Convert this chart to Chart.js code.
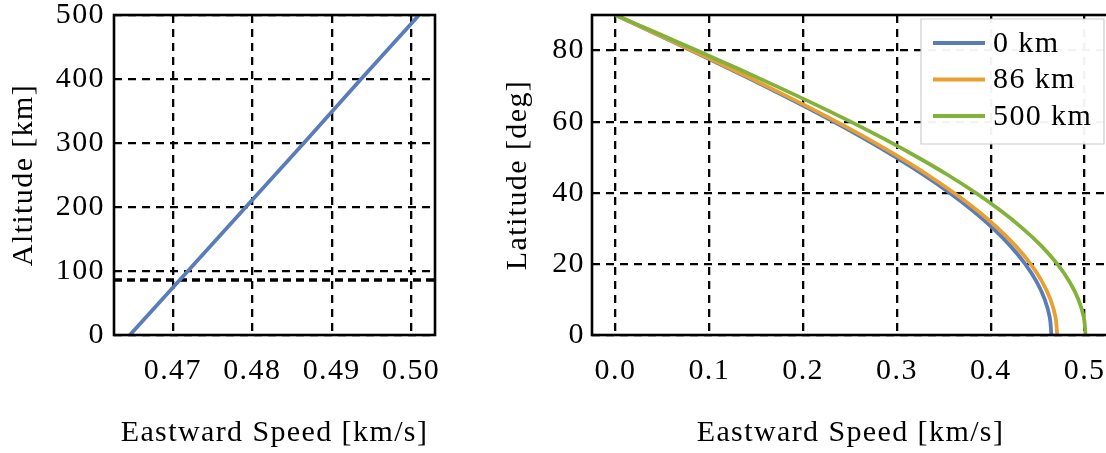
<!DOCTYPE html>
<html><head><meta charset="utf-8">
<script src="https://cdn.jsdelivr.net/npm/chart.js@4.4.0/dist/chart.umd.min.js"></script>
<style>
html,body{margin:0;padding:0;overflow:hidden;background:#fff;width:1106px;height:453px;}
#l{position:absolute;left:0;top:0;width:450px;height:453px;}
#r{position:absolute;left:480px;top:0;width:640px;height:453px;}
</style></head><body>
<div id="l"><canvas id="c1"></canvas></div>
<div id="r"><canvas id="c2"></canvas></div>
<script>
// ---- data ----
const altitudeKm    = [0, 100, 200, 300, 400, 500];
const altitudeSpeed = [0.4646, 0.4719, 0.4792, 0.4865, 0.4937, 0.5010];
const boundaryAltitude = 86;

const latitudeDeg = [0, 5, 10, 15, 20, 25, 30, 35, 40, 45, 50, 55, 60, 65, 70, 75, 80, 85, 90];
const speed0km   = [0.4646, 0.4628, 0.4575, 0.4488, 0.4366, 0.4211, 0.4024, 0.3806, 0.3559, 0.3285, 0.2986, 0.2665, 0.2323, 0.1963, 0.1589, 0.1202, 0.0807, 0.0405, 0];
const speed86km  = [0.4708, 0.4690, 0.4636, 0.4547, 0.4424, 0.4267, 0.4077, 0.3857, 0.3606, 0.3329, 0.3026, 0.2701, 0.2354, 0.1990, 0.1610, 0.1218, 0.0817, 0.0411, 0];
const speed500km = [0.5010, 0.4991, 0.4934, 0.4839, 0.4708, 0.4541, 0.4339, 0.4104, 0.3838, 0.3543, 0.3220, 0.2874, 0.2505, 0.2117, 0.1713, 0.1297, 0.0870, 0.0437, 0];
const seriesLabels = ['0 km', '86 km', '500 km'];

const leftXTicks  = [0.47, 0.48, 0.49, 0.50];
const leftYTicks  = [0, 100, 200, 300, 400, 500];
const rightXTicks = [0.0, 0.1, 0.2, 0.3, 0.4, 0.5];
const rightYTicks = [0, 20, 40, 60, 80];

const xTitle = 'Eastward Speed [km/s]';
const leftYTitle = 'Altitude [km]';
const rightYTitle = 'Latitude [deg]';

// ---- styles ----
const FONT = {family: "'Liberation Serif', 'Times New Roman', serif", size: 30, lineHeight: 1.2};
const LETTER_SPACING = '1.4px';
const colors = ['#5a7dba', '#e8a033', '#83b23a'];

const setTicks = arr => s => { s.ticks = arr.map(v => ({value: v})); };
const fitX = h => s => { s.height = h; s.paddingLeft = 0; s.paddingRight = 0; s.paddingTop = 0; s.paddingBottom = 0; };
const fitY = w => s => { s.width = w; s.paddingLeft = 0; s.paddingRight = 0; s.paddingTop = 0; s.paddingBottom = 0; };

const letterSpacingPlugin = {
  id: 'ls',
  beforeDraw(chart) { try { chart.ctx.letterSpacing = LETTER_SPACING; } catch (e) {} }
};
const framePlugin = {
  id: 'frame',
  afterDatasetsDraw(chart) {
    const {ctx, chartArea: a} = chart;
    ctx.save();
    ctx.strokeStyle = '#000';
    ctx.lineWidth = 2.6;
    ctx.setLineDash([]);
    ctx.strokeRect(a.left, a.top, a.right - a.left, a.bottom - a.top);
    ctx.restore();
  }
};
const refLinePlugin = {
  id: 'refline',
  beforeDatasetsDraw(chart) {
    const {ctx, chartArea: a, scales} = chart;
    const y = scales.y.getPixelForValue(boundaryAltitude);
    ctx.save();
    ctx.strokeStyle = '#000';
    ctx.lineWidth = 3.6;
    ctx.setLineDash([8, 5]);
    ctx.beginPath();
    ctx.moveTo(a.left, y);
    ctx.lineTo(a.right, y);
    ctx.stroke();
    ctx.restore();
  }
};
const legendPlugin = {
  id: 'boxlegend',
  afterDraw(chart) {
    const {ctx, chartArea: a} = chart;
    const right = a.right - 5, top = a.top + 4, w = 183, h = 125;
    const left = right - w;
    ctx.save();
    ctx.fillStyle = 'rgba(255,255,255,0.95)';
    ctx.strokeStyle = '#cccccc';
    ctx.lineWidth = 1.2;
    ctx.setLineDash([]);
    ctx.beginPath();
    ctx.rect(left, top, w, h);
    ctx.fill();
    ctx.stroke();
    ctx.font = `${FONT.size}px ${FONT.family}`;
    ctx.textBaseline = 'middle';
    ctx.textAlign = 'left';
    ctx.fillStyle = '#000';
    try { ctx.letterSpacing = LETTER_SPACING; } catch (e) {}
    chart.data.datasets.forEach((ds, i) => {
      const y = top + 24 + i * 36.5;
      ctx.strokeStyle = ds.borderColor;
      ctx.lineWidth = 4;
      ctx.beginPath();
      ctx.moveTo(left + 12, y);
      ctx.lineTo(left + 64, y);
      ctx.stroke();
      ctx.fillText(ds.label, left + 72, y + 1);
    });
    ctx.restore();
  }
};

function gridOpts() {
  return {color: '#000', lineWidth: 2.3, drawTicks: false};
}
function borderOpts() {
  return {display: false, dash: [8, 6]};
}

// ---- left chart ----
new Chart(document.getElementById('c1'), {
  type: 'scatter',
  data: {
    datasets: [{
      label: 'altitude',
      data: altitudeSpeed.map((v, i) => ({x: v, y: altitudeKm[i]})),
      showLine: true,
      borderColor: colors[0],
      borderWidth: 3.8,
      pointRadius: 0,
      fill: false
    }]
  },
  options: {
    responsive: true, maintainAspectRatio: false, animation: false,
    layout: {padding: {top: 15, right: 15, bottom: 0, left: 0}},
    plugins: {legend: {display: false}, tooltip: {enabled: false}},
    scales: {
      x: {
        type: 'linear', min: 0.4626, max: 0.5030,
        afterBuildTicks: setTicks(leftXTicks),
        afterFit: fitX(118),
        grid: gridOpts(), border: borderOpts(),
        ticks: {color: '#000', font: FONT, padding: 18, maxRotation: 0, callback: v => Number(v).toFixed(2)},
        title: {display: true, text: xTitle, color: '#000', font: FONT, padding: {top: 0, bottom: 2}}
      },
      y: {
        type: 'linear', min: 0, max: 500,
        afterBuildTicks: setTicks(leftYTicks),
        afterFit: fitY(114),
        grid: gridOpts(), border: borderOpts(),
        ticks: {color: '#000', font: FONT, padding: 9, callback: v => String(Math.round(v))},
        title: {display: true, text: leftYTitle, color: '#000', font: FONT, padding: {top: 6, bottom: 0}}
      }
    }
  },
  plugins: [letterSpacingPlugin, refLinePlugin, framePlugin]
});

// ---- right chart ----
const rightSeries = [speed0km, speed86km, speed500km];
new Chart(document.getElementById('c2'), {
  type: 'scatter',
  data: {
    datasets: rightSeries.map((arr, k) => ({
      label: seriesLabels[k],
      data: arr.map((v, i) => ({x: v, y: latitudeDeg[i]})),
      showLine: true,
      borderColor: colors[k],
      borderWidth: 3.8,
      pointRadius: 0,
      tension: 0.4,
      fill: false,
      order: 3 - k
    }))
  },
  options: {
    responsive: true, maintainAspectRatio: false, animation: false,
    layout: {padding: {top: 15, right: 11, bottom: 0, left: 0}},
    plugins: {legend: {display: false}, tooltip: {enabled: false}},
    scales: {
      x: {
        type: 'linear', min: -0.025, max: 0.526,
        afterBuildTicks: setTicks(rightXTicks),
        afterFit: fitX(118),
        grid: gridOpts(), border: borderOpts(),
        ticks: {color: '#000', font: FONT, padding: 18, maxRotation: 0, callback: v => Number(v).toFixed(1)},
        title: {display: true, text: xTitle, color: '#000', font: FONT, padding: {top: 0, bottom: 2}}
      },
      y: {
        type: 'linear', min: 0, max: 90,
        afterBuildTicks: setTicks(rightYTicks),
        afterFit: fitY(112),
        grid: gridOpts(), border: borderOpts(),
        ticks: {color: '#000', font: FONT, padding: 7, callback: v => String(Math.round(v))},
        title: {display: true, text: rightYTitle, color: '#000', font: FONT, padding: {top: 20, bottom: 0}}
      }
    }
  },
  plugins: [letterSpacingPlugin, framePlugin, legendPlugin]
});
</script>
</body></html>
